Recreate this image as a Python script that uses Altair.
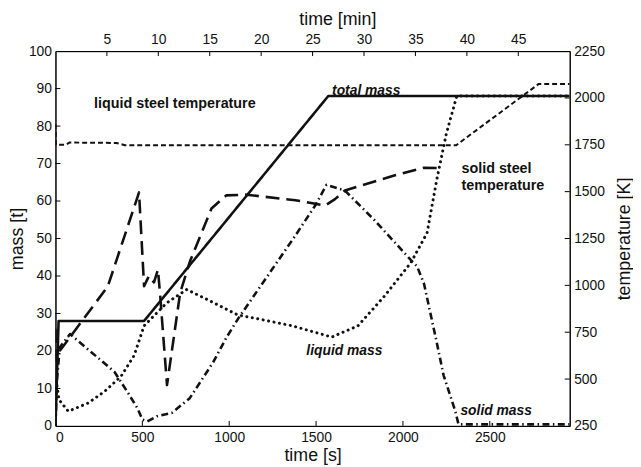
import altair as alt
import pandas as pd

# ---------------- data ----------------
total_t = [0, 18, 510, 1570, 2960]
total_m = [0, 28, 28, 88, 88]

liq_t = [0, 5, 20, 74, 188, 283, 377, 453, 510, 529, 640, 756, 870, 1050, 1173, 1363,
         1590, 1741, 1893, 2045, 2139, 2196, 2250, 2310, 2960]
liq_m = [0, 12, 7, 3.9, 6.1, 9.2, 13.2, 18.8, 26.7, 27.6, 32.8, 36.4, 33.8, 29.6, 28.5, 26.7,
         23.7, 26.7, 34.6, 43.5, 51.5, 66, 78, 88, 88]

sol_t = [0, 8, 25, 84, 188, 340, 415, 472, 500, 529, 585, 671, 773, 908, 983, 1050, 1381,
         1495, 1560, 1666, 1836, 2045, 2081, 2121, 2194, 2234, 2301, 2320, 2960]
sol_m = [0, 12, 21, 24.5, 20.4, 14.4, 9, 4.7, 1.7, 1.2, 2.6, 3.5, 7.4, 17, 23.5, 28.5, 50.8,
         58.8, 64.3, 62.8, 54.9, 44.3, 42.6, 38, 22.4, 13.5, 4, 0.4, 0.4]

liqT_t = [0, 3, 60, 80, 350, 400, 2307, 2782, 2960]
liqT_K = [1860, 1750, 1750, 1762, 1760, 1748, 1748, 2075, 2075]

solT_t = [0, 4, 15, 34, 301, 481, 510, 538, 567, 590, 603, 642, 718, 775, 898, 983, 1097,
          1381, 1495, 1552, 1609, 1666, 1950, 2120, 2217]
solT_K = [768, 600, 640, 662, 994, 1496, 996, 1050, 1016, 1084, 942, 468, 962, 1130, 1410,
          1480, 1484, 1454, 1436, 1426, 1460, 1506, 1586, 1628, 1626]

sec_ticks = [0, 500, 1000, 1500, 2000, 2500]
min_ticks = [5, 10, 15, 20, 25, 30, 35, 40, 45]
mass_ticks = [0, 10, 20, 30, 40, 50, 60, 70, 80, 90, 100]
temp_ticks = [250, 500, 750, 1000, 1250, 1500, 1750, 2000, 2250]

label_upright = ["liquid steel temperature", "solid steel", "temperature"]
label_upright_t = [222, 2337, 2337]
label_upright_m = [85.8, 68.6, 63.9]
label_italic = ["total mass", "liquid mass", "solid mass"]
label_italic_t = [1592, 1444, 2331]
label_italic_m = [89.4, 20.1, 4.0]

# ---------------- layout ----------------
W, H = 520, 379
X_DOM = [0, 2960]
FONT = "Liberation Sans"
INK = "#111111"

xs = alt.Scale(domain=X_DOM, nice=False, zero=False)
ym = alt.Scale(domain=[0, 100], nice=False, zero=False)
yt = alt.Scale(domain=[250, 2250], nice=False, zero=False)

ax_common = dict(grid=False, ticks=False, tickSize=0, domainColor="#000", domainWidth=1,
                 labelFont=FONT, labelFontSize=14, labelColor=INK, format="d",
                 titleFont=FONT, titleFontSize=18, titleFontWeight="normal", titleColor=INK)

X_MASS = alt.X("t:Q", scale=xs, axis=alt.Axis(
    orient="bottom", values=sec_ticks, title="time [s]", labelPadding=5,
    titleX=260, titleY=30, titleAlign="center", titleBaseline="middle", **ax_common))
Y_MASS = alt.Y("m:Q", scale=ym, axis=alt.Axis(
    orient="left", values=mass_ticks, title="mass [t]", labelPadding=4,
    titleX=-38, titleY=189.5, titleAngle=270, titleAlign="center", titleBaseline="middle",
    **ax_common))
X_T = alt.X("t:Q", scale=xs, axis=None)
Y_T = alt.Y("T:Q", scale=yt, axis=alt.Axis(
    orient="right", values=temp_ticks, title="temperature [K]", labelPadding=4,
    titleX=55, titleY=189.5, titleAngle=270, titleAlign="center", titleBaseline="middle",
    **ax_common))


def mline(t, v, dash, width, cap="butt"):
    df = pd.DataFrame({"t": t, "m": v})
    return alt.Chart(df).mark_line(stroke=INK, strokeDash=dash, strokeWidth=width,
                                   strokeCap=cap, strokeJoin="round", clip=True).encode(
        x=X_MASS, y=Y_MASS, order="t:Q")


def tline(t, v, dash, width, cap="butt"):
    df = pd.DataFrame({"t": t, "T": v})
    return alt.Chart(df).mark_line(stroke=INK, strokeDash=dash, strokeWidth=width,
                                   strokeCap=cap, strokeJoin="round", clip=True).encode(
        x=X_T, y=Y_T, order="t:Q")


total_line = mline(total_t, total_m, [1, 0], 2.6)
liq_line = mline(liq_t, liq_m, [0.1, 5.5], 3.0, cap="round")
sol_line = mline(sol_t, sol_m, [7, 3.5, 1.5, 3.5], 2.6)

# inward ticks (bottom + left)
bt = alt.Chart(pd.DataFrame({"t": sec_ticks[1:]})).mark_rule(color="#000", strokeWidth=1).encode(
    x=X_MASS, y=alt.value(H), y2=alt.value(H - 5))
lt = alt.Chart(pd.DataFrame({"m": mass_ticks[1:-1]})).mark_rule(color="#000", strokeWidth=1).encode(
    y=Y_MASS, x=alt.value(0), x2=alt.value(5))

txt_up = alt.Chart(pd.DataFrame({"t": label_upright_t, "m": label_upright_m, "s": label_upright})).mark_text(
    font=FONT, fontSize=14.5, fontWeight="bold", color=INK, align="left", baseline="middle").encode(
    x=X_MASS, y=Y_MASS, text="s:N")
txt_it = alt.Chart(pd.DataFrame({"t": label_italic_t, "m": label_italic_m, "s": label_italic})).mark_text(
    font=FONT, fontSize=14, fontWeight="bold", fontStyle="italic", color=INK, align="left",
    baseline="middle").encode(x=X_MASS, y=Y_MASS, text="s:N")

mass_group = alt.layer(total_line, liq_line, sol_line, bt, lt, txt_up, txt_it)

liqT_line = tline(liqT_t, liqT_K, [5, 3], 2.0)
solT_line = tline(solT_t, solT_K, [14, 7], 2.6)
rt = alt.Chart(pd.DataFrame({"T": temp_ticks[1:-1]})).mark_rule(color="#000", strokeWidth=1).encode(
    y=Y_T, x=alt.value(W), x2=alt.value(W - 5))
temp_group = alt.layer(liqT_line, solT_line, rt)

top_layer = alt.Chart(pd.DataFrame({"mn": min_ticks})).mark_rule(color="#000", strokeWidth=1).encode(
    x=alt.X("mn:Q", scale=alt.Scale(domain=[0, 50], nice=False, zero=False), axis=alt.Axis(
        orient="top", values=min_ticks, title="time [min]", labelPadding=5,
        titleX=285, titleY=-32, titleAlign="center", titleBaseline="middle", **ax_common)),
    y=alt.value(0), y2=alt.value(5))

chart = alt.layer(mass_group, temp_group, top_layer).resolve_scale(
    x="independent", y="independent"
).properties(
    width=W, height=H,
    autosize=alt.AutoSizeParams(type="none"),
    padding={"left": 48, "top": 41, "right": 64, "bottom": 42},
    background="white",
).configure_view(stroke="#000", strokeWidth=1)

chart.save("out.html", embed_options={"renderer": "svg", "actions": False})
